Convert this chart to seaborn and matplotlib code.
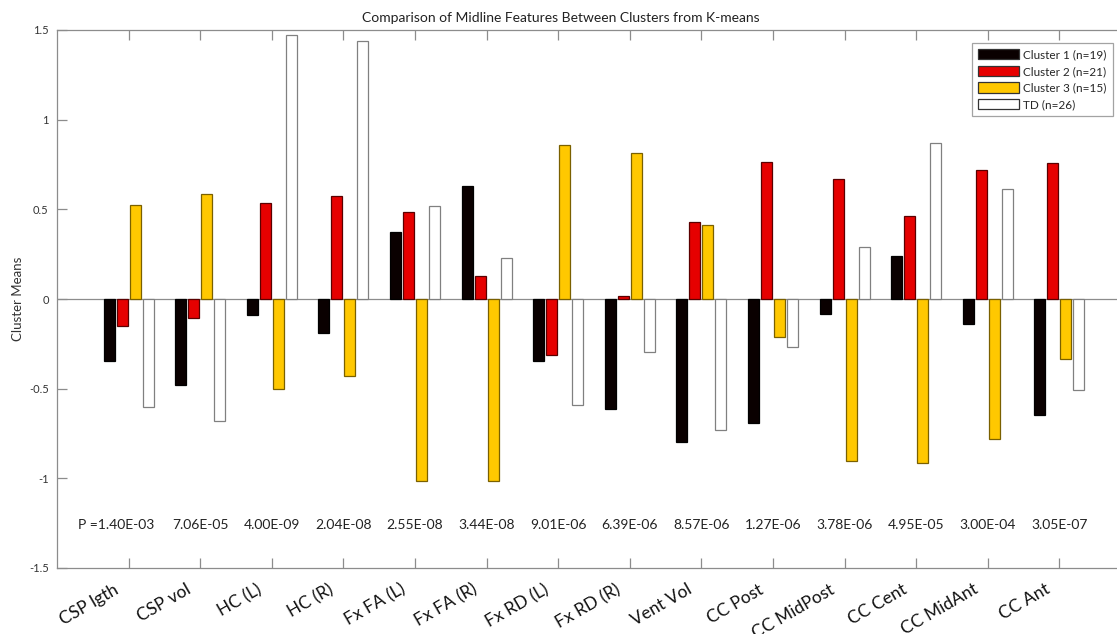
import matplotlib
matplotlib.use("Agg")
import matplotlib.pyplot as plt
import matplotlib.transforms as mtransforms
import seaborn as sns
import pandas as pd

# Midline features compared across K-means clusters and typically developing controls
features = ["CSP lgth", "CSP vol", "HC (L)", "HC (R)", "Fx FA (L)", "Fx FA (R)",
            "Fx RD (L)", "Fx RD (R)", "Vent Vol", "CC Post", "CC MidPost",
            "CC Cent", "CC MidAnt", "CC Ant"]
groups = ["Cluster 1 (n=19)", "Cluster 2 (n=21)", "Cluster 3 (n=15)", "TD (n=26)"]

cluster1 = [-0.348, -0.478, -0.087, -0.189, 0.372, 0.629, -0.343, -0.615,
            -0.800, -0.693, -0.083, 0.241, -0.139, -0.647]
cluster2 = [-0.152, -0.106, 0.537, 0.572, 0.485, 0.129, -0.311, 0.018,
            0.431, 0.765, 0.668, 0.461, 0.718, 0.761]
cluster3 = [0.526, 0.585, -0.502, -0.432, -1.013, -1.017, 0.857, 0.814,
            0.413, -0.210, -0.902, -0.915, -0.783, -0.332]
td = [-0.604, -0.682, 1.472, 1.439, 0.520, 0.226, -0.589, -0.295,
      -0.730, -0.267, 0.292, 0.872, 0.611, -0.509]

p_values = ["1.40E-03", "7.06E-05", "4.00E-09", "2.04E-08", "2.55E-08", "3.44E-08",
            "9.01E-06", "6.39E-06", "8.57E-06", "1.27E-06", "3.78E-06", "4.95E-05",
            "3.00E-04", "3.05E-07"]

y_ticks = [-1.5, -1, -0.5, 0, 0.5, 1, 1.5]
y_tick_labels = ["-1.5", "-1", "-0.5", "0", "0.5", "1", "1.5"]

face_colors = ["#0a0000", "#e60000", "#ffc800", "#ffffff"]
edge_colors = ["#000000", "#5a0000", "#7a6000", "#808080"]

rows = []
for name, vals in zip(groups, [cluster1, cluster2, cluster3, td]):
    for feat, v in zip(features, vals):
        rows.append({"feature": feat, "group": name, "mean": v})
df = pd.DataFrame(rows)

sns.set_style("white")
plt.rcParams["font.family"] = ["Lato", "DejaVu Sans"]

fig = plt.figure(figsize=(11.17, 6.34), dpi=100)
ax = fig.add_axes([57 / 1117, 1 - 568 / 634, 1074 / 1117, 538 / 634])

sns.barplot(data=df, x="feature", y="mean", hue="group", order=features,
            hue_order=groups, palette=face_colors, saturation=1,
            width=0.727, gap=0.15, linewidth=0.9, errorbar=None, ax=ax,
            legend=False)

for cont, ec in zip(ax.containers, edge_colors):
    for patch in cont:
        patch.set_edgecolor(ec)

ax.axhline(0, color="#8c8c8c", lw=0.9, zorder=0.5)

ax.set_xlim(-1, 14)
ax.set_ylim(-1.5, 1.5)
ax.set_yticks(y_ticks)
ax.set_yticklabels(y_tick_labels)

for s in ax.spines.values():
    s.set_color("#8c8c8c")
    s.set_linewidth(0.9)

ax.tick_params(axis="y", direction="in", length=7, width=0.9, color="#8c8c8c",
               labelsize=8, labelcolor="#333333", pad=6, left=True, right=False)
ax.tick_params(axis="x", direction="in", length=7.5, width=0.9, color="#8c8c8c",
               labelsize=12.5, labelcolor="#111111", pad=6, bottom=True, top=True)

# rotated feature names sit just left of and below each tick
shift = mtransforms.ScaledTranslation(-0.15, -0.05, fig.dpi_scale_trans)
for lab in ax.get_xticklabels():
    lab.set_rotation(30)
    lab.set_ha("right")
    lab.set_va("top")
    lab.set_rotation_mode("anchor")
    lab.set_transform(lab.get_transform() + shift)

ax.set_xlabel("")
ax.set_ylabel("Cluster Means", fontsize=9.5, color="#333333")
ax.yaxis.set_label_coords(-0.031, 0.5)

ax.set_title("Comparison of Midline Features Between Clusters from K-means",
             fontsize=10, color="#222222", x=0.469, pad=6)

# p-values of the group comparison for each feature
for i, p in enumerate(p_values):
    if i == 0:
        ax.text(0.36, -1.258, "P =" + p, ha="right", va="center",
                fontsize=10, color="#222222")
    else:
        ax.text(i, -1.258, p, ha="center", va="center", fontsize=10,
                color="#222222")

leg = ax.legend(handles=list(ax.containers), labels=groups,
                loc="upper left", bbox_to_anchor=(972 / 1117, 1 - 43 / 634),
                bbox_transform=fig.transFigure, borderaxespad=0,
                fontsize=8.5, handlelength=3.5, handleheight=1.0,
                handletextpad=0.35, labelspacing=0.45, borderpad=0.5,
                frameon=True, fancybox=False)
leg.get_frame().set_edgecolor("#8c8c8c")
leg.get_frame().set_linewidth(0.9)
for h in leg.legend_handles:
    h.set_edgecolor("#333333")

fig.savefig("out.png", dpi=100)
